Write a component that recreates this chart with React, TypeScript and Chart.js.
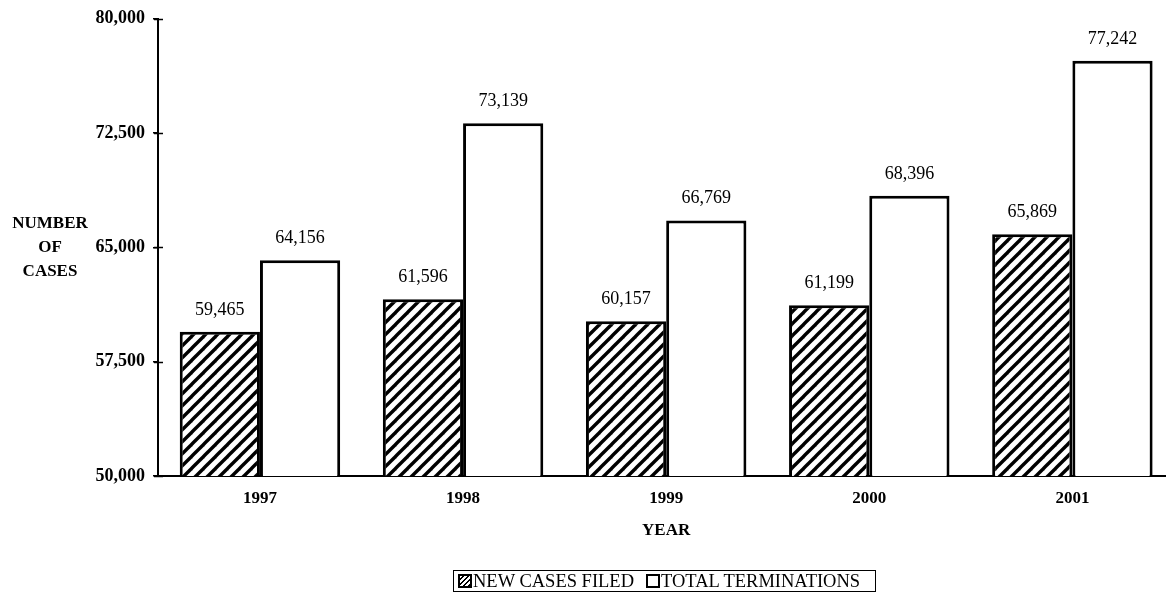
import React, { useEffect, useRef } from "react";
import { Chart, registerables } from "chart.js";

Chart.register(...registerables);

const categories = [1997, 1998, 1999, 2000, 2001];
const newCasesFiled = [59465, 61596, 60157, 61199, 65869];
const totalTerminations = [64156, 73139, 66769, 68396, 77242];
const yTicks = [50000, 57500, 65000, 72500, 80000];
const seriesLabels = ["NEW CASES FILED", "TOTAL TERMINATIONS"];
const yTitleLines = ["NUMBER", "OF", "CASES"];
const xTitle = "YEAR";

const FONT = "'Liberation Serif', 'Times New Roman', serif";
const fmt = (v: number) => v.toLocaleString("en-US");

function makeHatch(): CanvasPattern | string {
  const c = document.createElement("canvas");
  c.width = 12;
  c.height = 12;
  const g = c.getContext("2d");
  if (!g) return "#fff";
  g.fillStyle = "#fff";
  g.fillRect(0, 0, 12, 12);
  g.strokeStyle = "#000";
  g.lineWidth = 3.4;
  g.lineCap = "square";
  const seg = (x1: number, y1: number, x2: number, y2: number) => {
    g.beginPath();
    g.moveTo(x1, y1);
    g.lineTo(x2, y2);
    g.stroke();
  };
  seg(-2, 14, 14, -2);
  seg(-8, 8, 8, -8);
  seg(4, 20, 20, 4);
  const p = g.createPattern(c, "repeat");
  return p || "#fff";
}

const labelsPlugin = {
  id: "customText",
  afterDraw(chart: any) {
    const ctx = chart.ctx;
    const xs = chart.scales.x;
    const ys = chart.scales.y;
    const area = chart.chartArea;
    ctx.save();
    ctx.fillStyle = "#000";
    // value labels
    ctx.font = `18px ${FONT}`;
    ctx.textAlign = "center";
    ctx.textBaseline = "alphabetic";
    chart.data.datasets.forEach((ds: any, di: number) => {
      const meta = chart.getDatasetMeta(di);
      meta.data.forEach((el: any, i: number) => {
        const v = ds.data[i].y;
        ctx.fillText(fmt(v), el.x, el.y - 17);
      });
    });
    // tick marks crossing into the plot
    ctx.strokeStyle = "#000";
    ctx.lineWidth = 1.5;
    yTicks.forEach((t) => {
      const py = Math.round(ys.getPixelForValue(t)) + 0.5;
      ctx.beginPath();
      ctx.moveTo(area.left - 4, py);
      ctx.lineTo(area.left + 5, py);
      ctx.stroke();
    });
    // y title
    ctx.font = `bold 17px ${FONT}`;
    ctx.textBaseline = "middle";
    const midY = ys.getPixelForValue(yTicks[2]);
    yTitleLines.forEach((line, i) => {
      ctx.fillText(line, 50, midY + (i - 1) * 24);
    });
    // x title
    ctx.font = `bold 17px ${FONT}`;
    ctx.textBaseline = "alphabetic";
    const midX = xs.getPixelForValue(categories[Math.floor(categories.length / 2)]);
    ctx.fillText(xTitle, midX, 535);
    ctx.restore();
  },
};

export default function App() {
  const ref = useRef<HTMLCanvasElement | null>(null);

  useEffect(() => {
    if (!ref.current) return;
    const hatch = makeHatch();
    const first = categories[0];
    const last = categories[categories.length - 1];
    const chart = new Chart(ref.current, {
      type: "bar",
      data: {
        datasets: [
          {
            label: seriesLabels[0],
            data: categories.map((c, i) => ({ x: c, y: newCasesFiled[i] })),
            backgroundColor: hatch as any,
            borderColor: "#000",
            borderWidth: 3,
            categoryPercentage: 0.79,
            barPercentage: 1,
          },
          {
            label: seriesLabels[1],
            data: categories.map((c, i) => ({ x: c, y: totalTerminations[i] })),
            backgroundColor: "#fff",
            borderColor: "#000",
            borderWidth: 3,
            categoryPercentage: 0.79,
            barPercentage: 1,
          },
        ],
      } as any,
      options: {
        responsive: false,
        animation: false,
        devicePixelRatio: 1,
        layout: { padding: { top: 16, right: 3, left: 0, bottom: 0 } },
        plugins: {
          legend: { display: false },
          tooltip: { enabled: false },
        },
        scales: {
          x: {
            type: "linear",
            min: first - 0.502,
            max: last + 0.456,
            offset: false,
            grid: { display: false, drawTicks: false },
            border: { display: true, color: "#000", width: 2 },
            ticks: {
              stepSize: 1,
              color: "#000",
              padding: 12,
              font: { family: FONT, size: 17, weight: "bold" },
              callback: (v: any) => String(v),
            },
            afterBuildTicks: (axis: any) => {
              axis.ticks = categories.map((c) => ({ value: c }));
            },
            afterFit: (axis: any) => {
              axis.height = 130;
            },
          } as any,
          y: {
            type: "linear",
            min: yTicks[0],
            max: yTicks[yTicks.length - 1],
            grid: {
              drawOnChartArea: false,
              drawTicks: true,
              tickLength: 5,
              color: "#000",
              lineWidth: 1.5,
            },
            border: { display: true, color: "#000", width: 2 },
            ticks: {
              color: "#000",
              padding: 8,
              font: { family: FONT, size: 18, weight: "bold" },
              callback: (v: any) => fmt(Number(v)),
            },
            afterBuildTicks: (axis: any) => {
              axis.ticks = yTicks.map((v) => ({ value: v }));
            },
            afterFit: (axis: any) => {
              axis.width = 158;
            },
          } as any,
        },
      },
      plugins: [labelsPlugin],
    });
    return () => chart.destroy();
  }, []);

  const iconBase: React.CSSProperties = {
    display: "inline-block",
    width: 10,
    height: 10,
    border: "2px solid #000",
    marginRight: 1,
    boxSizing: "content-box",
  };

  return (
    <div
      style={{
        position: "fixed",
        left: 0,
        top: 0,
        width: 1168,
        height: 606,
        background: "#fff",
        overflow: "hidden",
      }}
    >
      <canvas ref={ref} width={1168} height={606} style={{ display: "block", width: 1168, height: 606 }} />
      <div
        style={{
          position: "absolute",
          left: 453,
          top: 570,
          width: 423,
          height: 22,
          border: "1.5px solid #000",
          display: "flex",
          alignItems: "center",
          paddingLeft: 4,
          boxSizing: "border-box",
          fontFamily: FONT,
          fontSize: 18.5,
          color: "#000",
          whiteSpace: "nowrap",
          lineHeight: "18px",
        }}
      >
        <span
          style={{
            ...iconBase,
            background:
              "repeating-linear-gradient(-45deg, #000 0px, #000 1.6px, #fff 1.6px, #fff 3.6px)",
          }}
        />
        <span>{seriesLabels[0]}</span>
        <span style={{ ...iconBase, marginLeft: 12, background: "#fff" }} />
        <span>{seriesLabels[1]}</span>
      </div>
    </div>
  );
}
